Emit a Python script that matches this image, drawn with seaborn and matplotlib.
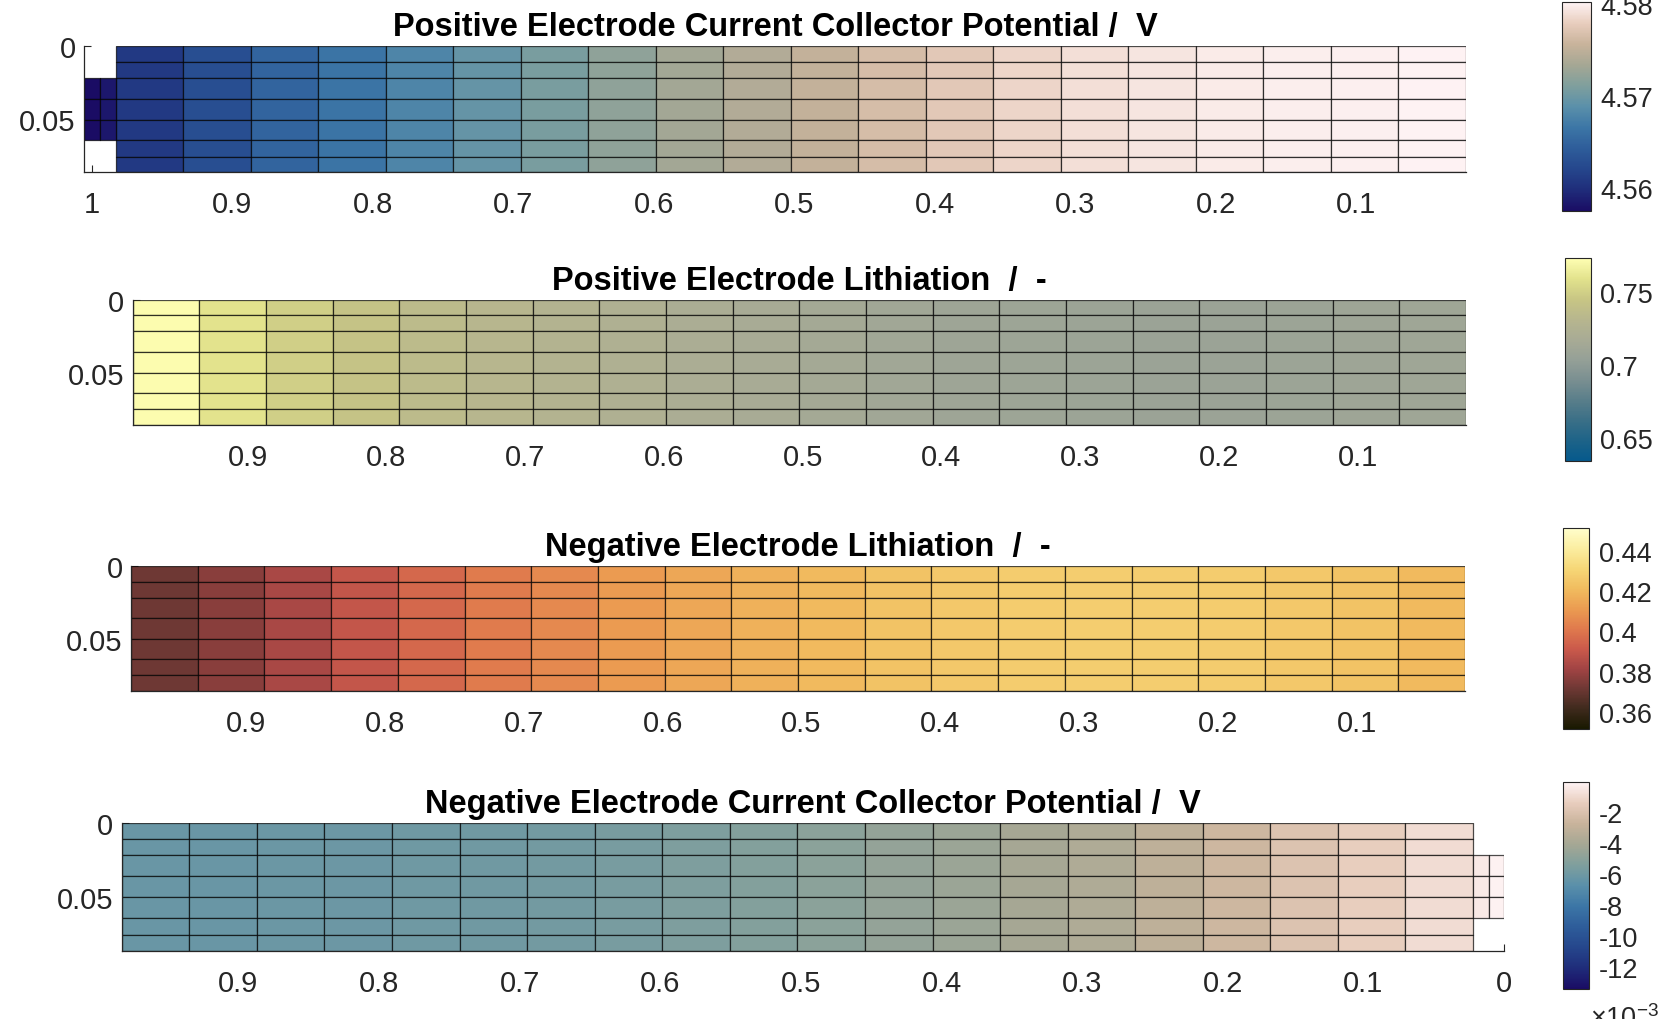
import numpy as np
import matplotlib
matplotlib.use("Agg")
import matplotlib.pyplot as plt
from matplotlib.ticker import FixedLocator, FixedFormatter
import seaborn as sns

# ---------------------------------------------------------------- data
# mesh geometry in normalised cell coordinates
x_main = np.linspace(0.983, 0.022, 21)           # 20 columns along the electrode
y_edges = [0.0, 0.0108, 0.0217, 0.0358, 0.0501, 0.0642, 0.0751, 0.0858]
pos_tab_x = [1.0057, 0.9943, 0.983]               # positive tab (left end)
neg_tab_x = [0.022, 0.011, 0.0]                   # negative tab (right end)
tab_rows = slice(2, 5)                            # tabs cover rows 3-5

# column values, from x = 0.983 (left) towards x = 0.022 (right)
pos_cc_potential = [4.5609, 4.5629, 4.5650, 4.5664, 4.5679, 4.5695, 4.5708,
                    4.5721, 4.5732, 4.5742, 4.5753, 4.5765, 4.5775, 4.5784,
                    4.5790, 4.5794, 4.5797, 4.5799, 4.5800, 4.5802]
pos_tab_potential = [4.5575, 4.5583]

pos_lithiation = [0.7714, 0.7589, 0.7492, 0.7422, 0.7353, 0.7311, 0.7269,
                  0.7235, 0.7200, 0.7172, 0.7144, 0.7123, 0.7102, 0.7089,
                  0.7082, 0.7075, 0.7075, 0.7082, 0.7096, 0.7109]

neg_lithiation = [0.3714, 0.3764, 0.3834, 0.3893, 0.3958, 0.4013, 0.4058,
                  0.4108, 0.4148, 0.4177, 0.4207, 0.4237, 0.4257, 0.4272,
                  0.4277, 0.4277, 0.4272, 0.4257, 0.4237, 0.4207]

neg_cc_potential = [-6.22e-3, -6.21e-3, -6.15e-3, -6.09e-3, -6.02e-3, -5.95e-3,
                    -5.82e-3, -5.69e-3, -5.49e-3, -5.29e-3, -5.02e-3, -4.69e-3,
                    -4.42e-3, -4.09e-3, -3.69e-3, -3.16e-3, -2.56e-3, -1.96e-3,
                    -1.43e-3, -0.90e-3]
neg_tab_potential = [-0.43e-3, -0.19e-3]

# colour limits of each panel
clim_pos_cc = (4.5575, 4.5802)
clim_pos_li = (0.6338, 0.7728)
clim_neg_li = (0.3515, 0.4511)
clim_neg_cc = (-13.4e-3, -0.1e-3)

titles = ["Positive Electrode Current Collector Potential /  V",
          "Positive Electrode Lithiation  /  -",
          "Negative Electrode Lithiation  /  -",
          "Negative Electrode Current Collector Potential /  V"]

x_ticks_mid = [0.9, 0.8, 0.7, 0.6, 0.5, 0.4, 0.3, 0.2, 0.1]
x_labels_mid = ["0.9", "0.8", "0.7", "0.6", "0.5", "0.4", "0.3", "0.2", "0.1"]
y_ticks = [0.0, 0.05]
y_labels = ["0", "0.05"]

cb_ticks = [[4.56, 4.57, 4.58],
            [0.65, 0.70, 0.75],
            [0.36, 0.38, 0.40, 0.42, 0.44],
            [-12e-3, -10e-3, -8e-3, -6e-3, -4e-3, -2e-3]]
cb_labels = [["4.56", "4.57", "4.58"],
             ["0.65", "0.7", "0.75"],
             ["0.36", "0.38", "0.4", "0.42", "0.44"],
             ["-12", "-10", "-8", "-6", "-4", "-2"]]

# ---------------------------------------------------------------- colour maps
lapaz = sns.blend_palette(["#1A0C64", "#1F2C7A", "#25468C", "#2E5D9A", "#3C76A6",
                           "#5A90AA", "#7F9F9D", "#A5A794", "#C8B39B", "#E8CDBD",
                           "#FEF2F3"], as_cmap=True)
nuuk = sns.blend_palette(["#05598C", "#1D6388", "#3A6F87", "#597E8A", "#7A8F91",
                          "#95A097", "#A8AB95", "#B7B68E", "#C8C684", "#E2E28C",
                          "#FEFEB2"], as_cmap=True)
lajolla_r = sns.blend_palette(["#191900", "#3F2A1D", "#6E3834", "#A24444", "#CB5A4B",
                               "#E07A4D", "#EB9C51", "#F1BC5F", "#F6D777", "#FBEDA0",
                               "#FFFECB"], as_cmap=True)

# ---------------------------------------------------------------- style
sns.set_theme(style="ticks")
plt.rcParams["font.family"] = ["Liberation Sans", "DejaVu Sans"]
plt.rcParams["mathtext.fontset"] = "custom"
plt.rcParams["mathtext.rm"] = "Liberation Sans"
plt.rcParams["mathtext.default"] = "regular"
plt.rcParams["axes.linewidth"] = 0.9
plt.rcParams["axes.edgecolor"] = "#262626"

W, H = 1671, 1020
fig = plt.figure(figsize=(W / 100, H / 100), dpi=100)


def px_axes(left, right, top, bottom):
    return fig.add_axes([left / W, 1 - bottom / H, (right - left) / W, (bottom - top) / H])


edge_kw = dict(edgecolors=(0, 0, 0, 0.7), linewidth=0.9, antialiased=True)
tick_color = "#262626"


def draw_panel(ax, cax, values, cmap, clim, title, xlim, xticks, xlabels,
               cticks, clabels, tab=None):
    grid = np.tile(np.asarray(values, dtype=float), (len(y_edges) - 1, 1))
    mesh = ax.pcolormesh(x_main, y_edges, grid, cmap=cmap, vmin=clim[0], vmax=clim[1],
                         shading="flat", **edge_kw)
    if tab is not None:
        tab_x, tab_vals = tab
        tab_y = y_edges[tab_rows.start:tab_rows.stop + 1]
        tab_grid = np.tile(np.asarray(tab_vals, dtype=float), (len(tab_y) - 1, 1))
        ax.pcolormesh(tab_x, tab_y, tab_grid, cmap=cmap, vmin=clim[0], vmax=clim[1],
                      shading="flat", **edge_kw)
    ax.set_xlim(*xlim)
    ax.set_ylim(y_edges[-1], y_edges[0])
    ax.set_axisbelow(True)
    ax.xaxis.set_major_locator(FixedLocator(xticks))
    ax.xaxis.set_major_formatter(FixedFormatter(xlabels))
    ax.yaxis.set_major_locator(FixedLocator(y_ticks))
    ax.yaxis.set_major_formatter(FixedFormatter(y_labels))
    ax.tick_params(axis="both", direction="in", length=5, width=0.8,
                   colors=tick_color, labelsize=21)
    ax.tick_params(axis="x", pad=13)
    ax.tick_params(axis="y", pad=6)
    sns.despine(ax=ax)
    ax.set_title(title, fontsize=23.5, fontweight="bold", color="black", pad=8)

    cb = fig.colorbar(mesh, cax=cax)
    cb.outline.set_linewidth(0.8)
    cb.outline.set_edgecolor(tick_color)
    cb.set_ticks(cticks)
    cb.set_ticklabels(clabels)
    cax.tick_params(direction="in", length=4, width=0.8, colors=tick_color,
                    labelsize=19.5, pad=7)


ax1 = px_axes(84, 1466, 46.7, 173.3)
ax2 = px_axes(132.5, 1466, 300.7, 425.7)
ax3 = px_axes(131, 1465, 567, 691.6)
ax4 = px_axes(121.7, 1504, 824, 951.5)
cax1 = px_axes(1562.3, 1590.7, 3.3, 212.3)
cax2 = px_axes(1565, 1590.7, 259.3, 462.3)
cax3 = px_axes(1563.3, 1589.3, 529.3, 730)
cax4 = px_axes(1563.3, 1588.7, 783.3, 990)

draw_panel(ax1, cax1, pos_cc_potential, lapaz, clim_pos_cc, titles[0],
           (pos_tab_x[0], x_main[-1]), [1.0] + x_ticks_mid, ["1"] + x_labels_mid,
           cb_ticks[0], cb_labels[0], tab=(pos_tab_x, pos_tab_potential))
draw_panel(ax2, cax2, pos_lithiation, nuuk, clim_pos_li, titles[1],
           (x_main[0], x_main[-1]), x_ticks_mid, x_labels_mid,
           cb_ticks[1], cb_labels[1])
draw_panel(ax3, cax3, neg_lithiation, lajolla_r, clim_neg_li, titles[2],
           (x_main[0], x_main[-1]), x_ticks_mid, x_labels_mid,
           cb_ticks[2], cb_labels[2])
draw_panel(ax4, cax4, neg_cc_potential, lapaz, clim_neg_cc, titles[3],
           (x_main[0], neg_tab_x[-1]), x_ticks_mid + [0.0], x_labels_mid + ["0"],
           cb_ticks[3], cb_labels[3], tab=(neg_tab_x, neg_tab_potential))

# exponent of the last colour bar
fig.text(1590 / W, (H - 1027) / H, r"×10$^{-3}$", fontsize=19.5, color=tick_color,
         ha="left", va="baseline")

fig.savefig("out.png", dpi=100)
